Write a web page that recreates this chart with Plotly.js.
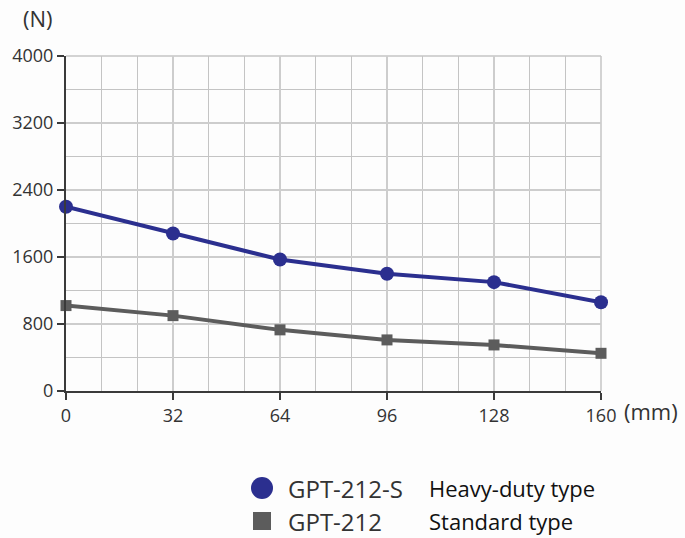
<!DOCTYPE html>
<html><head><meta charset="utf-8">
<script src="https://cdn.plot.ly/plotly-3.0.1.min.js"></script>
<style>html,body{margin:0;padding:0;background:#fdfdfd}#c{width:685px;height:538px}</style>
</head><body><div id="c"></div>
<script>
const strokeMm = [0, 32, 64, 96, 128, 160];
const heavyDuty = [2200, 1880, 1570, 1400, 1300, 1060];
const standard = [1020, 900, 730, 610, 550, 450];
const xTicks = [0, 32, 64, 96, 128, 160];
const yTicks = [0, 800, 1600, 2400, 3200, 4000];
const seriesNames = ["GPT-212-S", "GPT-212"];
const seriesTypes = ["Heavy-duty type", "Standard type"];
const blue = "#2b2f8f", gray = "#5c5c5c";
const font = "Open Sans, Noto Sans, sans-serif";
const gridC = "#c4c4c4";
const gridMajorC = "#cdcdcd";

const traces = [
  {x: strokeMm, y: heavyDuty, name: seriesNames[0], mode: "lines+markers", cliponaxis: false,
   line: {color: blue, width: 4}, marker: {symbol: "circle", size: 14, color: blue}},
  {x: strokeMm, y: standard, name: seriesNames[1], mode: "lines+markers", cliponaxis: false,
   line: {color: gray, width: 4}, marker: {symbol: "square", size: 11, color: gray}}
];
const layout = {
  width: 685, height: 538,
  margin: {l: 66, r: 84, t: 56, b: 147},
  paper_bgcolor: "#fdfdfd", plot_bgcolor: "#fdfdfd",
  showlegend: false,
  font: {family: font, color: "#333", size: 18},
  xaxis: {range: [0, 160], tickvals: xTicks, ticktext: xTicks.map(String),
    showline: true, linecolor: "#3a3a3a", linewidth: 2,
    ticks: "outside", ticklen: 7, tickwidth: 1.5, tickcolor: "#3a3a3a",
    showgrid: true, gridcolor: gridMajorC, gridwidth: 1.5, zeroline: false,
    minor: {dtick: 32/3, tick0: 0, showgrid: true, gridcolor: gridC, gridwidth: 1.5, ticks: ""},
    tickfont: {size: 18, color: "#333"}, fixedrange: true},
  yaxis: {range: [0, 4000], tickvals: yTicks, ticktext: yTicks.map(String),
    showline: true, linecolor: "#3a3a3a", linewidth: 2,
    ticks: "outside", ticklen: 7, tickwidth: 1.5, tickcolor: "#3a3a3a",
    showgrid: true, gridcolor: gridMajorC, gridwidth: 1.5, zeroline: false,
    minor: {dtick: 400, tick0: 0, showgrid: true, gridcolor: gridC, gridwidth: 1.5, ticks: ""},
    tickfont: {size: 18, color: "#333"}, fixedrange: true},
  shapes: [
    {type: "circle", xref: "paper", yref: "paper", fillcolor: blue, line: {width: 0}},
    {type: "rect", xref: "paper", yref: "paper", fillcolor: gray, line: {width: 0}},
    {type: "line", xref: "paper", yref: "paper", x0: 0, x1: 1, y0: 1, y1: 1, line: {color: gridC, width: 1.5}, layer: "below"},
    {type: "line", xref: "paper", yref: "paper", x0: 1, x1: 1, y0: 0, y1: 1, line: {color: gridC, width: 1.5}, layer: "below"}
  ],
  annotations: [
    {text: "(N)", xref: "paper", yref: "paper", xanchor: "center", yanchor: "middle",
     showarrow: false, font: {size: 22, color: "#333"}},
    {text: "(mm)", xref: "paper", yref: "paper", xanchor: "left", yanchor: "middle",
     showarrow: false, font: {size: 22, color: "#333"}}
  ]
};
for (let i = 0; i < 2; i++) {
  layout.annotations.push({text: seriesNames[i], xref: "paper", yref: "paper",
    xanchor: "left", yanchor: "middle", showarrow: false, font: {size: 24, color: "#333"}});
  layout.annotations.push({text: seriesTypes[i], xref: "paper", yref: "paper",
    xanchor: "left", yanchor: "middle", showarrow: false, font: {size: 22, color: "#111"}});
}
(function(){
  const W = 535, H = 335, L = 66, T = 56;
  const px = v => (v - L) / W, py = v => (T + H - v) / H;
  Object.assign(layout.shapes[0], {x0: px(251), x1: px(273), y0: py(477), y1: py(499)});
  Object.assign(layout.shapes[1], {x0: px(253), x1: px(271), y0: py(512), y1: py(530)});
  Object.assign(layout.annotations[0], {x: px(38), y: py(18)});
  Object.assign(layout.annotations[1], {x: px(622), y: py(411)});
  for (let i = 0; i < 2; i++) {
    const yy = [488, 521][i];
    Object.assign(layout.annotations[2 + 2*i], {x: px(286), y: py(yy)});
    Object.assign(layout.annotations[3 + 2*i], {x: px(427), y: py(yy)});
  }
})();
Plotly.newPlot("c", traces, layout, {displayModeBar: false, staticPlot: true});
</script></body></html>
